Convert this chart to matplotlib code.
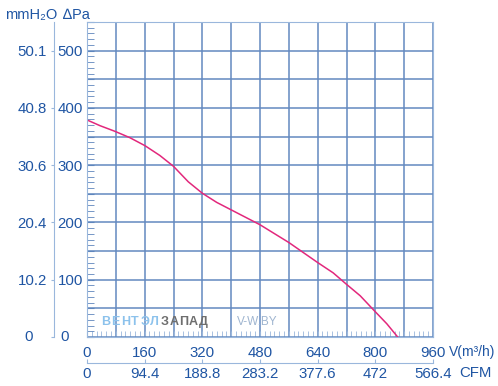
import numpy as np
import matplotlib
matplotlib.use('Agg')
import matplotlib.pyplot as plt
from matplotlib.ticker import MultipleLocator
from matplotlib.transforms import blended_transform_factory

plt.rcParams['font.family'] = ['Liberation Sans', 'DejaVu Sans']

# curve: flow in m3/h, static pressure in Pa
flow = [0, 36, 78, 119, 161, 202, 240, 281, 320, 360, 400, 480, 560, 640, 683,
        720, 758, 800, 832, 862]
pressure = [379, 369, 359, 348, 334, 317, 298, 271, 251, 235, 222, 196, 165, 130,
            112, 92, 72, 44, 23, 0]

# axis labels
flow_ticks = [0, 160, 320, 480, 640, 800, 960]
cfm_labels = ['0', '94.4', '188.8', '283.2', '377.6', '472', '566.4']
pa_ticks = [100, 200, 300, 400, 500]
mm_labels = ['10.2', '20.4', '30.6', '40.8', '50.1']

blue = '#1f55a3'
grid_c = '#6389c0'
spine_c = '#9ab7dc'
curve_c = '#e2287c'
fs = 10.8

fig = plt.figure(figsize=(4.98, 3.86), dpi=100)
ax = fig.add_axes([87/498, 49/386, 346/498, 315/386])
ax.set_xlim(0, 960)
ax.set_ylim(0, 550)

# grid every 80 m3/h and 50 Pa
ax.set_xticks(np.arange(0, 961, 80))
ax.set_xticklabels([str(v) if v % 160 == 0 else '' for v in range(0, 961, 80)])
ax.xaxis.set_minor_locator(MultipleLocator(80/6))
ax.set_yticks(np.arange(0, 551, 50))
ax.set_yticklabels([str(v) if v in pa_ticks else '' for v in range(0, 551, 50)])
ax.yaxis.set_minor_locator(MultipleLocator(10))
ax.grid(True, which='major', color=grid_c, lw=1.1)
ax.set_axisbelow(True)

ax.tick_params(axis='x', which='both', direction='in', length=4, color=spine_c,
               labelcolor=blue, labelsize=fs, pad=6.5)
ax.tick_params(axis='y', which='both', direction='in', length=5, color='#5f86bd',
               labelcolor=blue, labelsize=fs, pad=3)
for s in ax.spines.values():
    s.set_color(spine_c)

ax.plot(flow, pressure, color=curve_c, lw=1.1)

# CFM scale under the flow scale
secx = ax.secondary_xaxis(-26/315)
secx.set_xticks(flow_ticks, labels=cfm_labels)
secx.tick_params(direction='in', length=3, color=spine_c, labelcolor=blue,
                 labelsize=fs, pad=3)
secx.spines['bottom'].set_color(spine_c)

# mmH2O scale left of the Pa scale
secy = ax.secondary_yaxis(-33/346)
secy.set_yticks([0] + pa_ticks, labels=[''] + mm_labels)
secy.tick_params(direction='out', length=2, color=spine_c, labelcolor=blue,
                 labelsize=fs, pad=3)
secy.spines['left'].set_color(spine_c)

# zeros of both pressure scales
tr = blended_transform_factory(ax.transAxes, ax.transData)
ax.text(-0.066, 0, '0', transform=tr, ha='center', va='center', color=blue, fontsize=fs)
ax.text(-0.17, 0, '0', transform=tr, ha='center', va='center', color=blue, fontsize=fs)

# unit names
ax.text(1.045, -15/315, 'V(m³/h)', transform=ax.transAxes, ha='left', va='center',
        color=blue, fontsize=10)
ax.text(1.075, -36/315, 'CFM', transform=ax.transAxes, ha='left', va='center',
        color=blue, fontsize=fs)
fig.text(5/498, 1 - 15/386, 'mmH₂O', ha='left', va='center', color=blue, fontsize=10.5)
fig.text(63/498, 1 - 15/386, '∆Pa', ha='left', va='center', color=blue, fontsize=10.5)

# watermark
step = 9.7/346
for i, ch in enumerate('ВЕНТЭЛЗАПАД'):
    c = '#8cc2ec' if i < 6 else '#6e6e6e'
    ax.text(0.055 + i*step, 15/315, ch, transform=ax.transAxes, ha='center',
            va='center', color=c, fontsize=9, fontweight='bold')
ax.text(0.433, 15/315, 'V-W.BY', transform=ax.transAxes, ha='left', va='center',
        color='#9fb5d0', fontsize=8.5)

fig.savefig('out.png', dpi=100)
